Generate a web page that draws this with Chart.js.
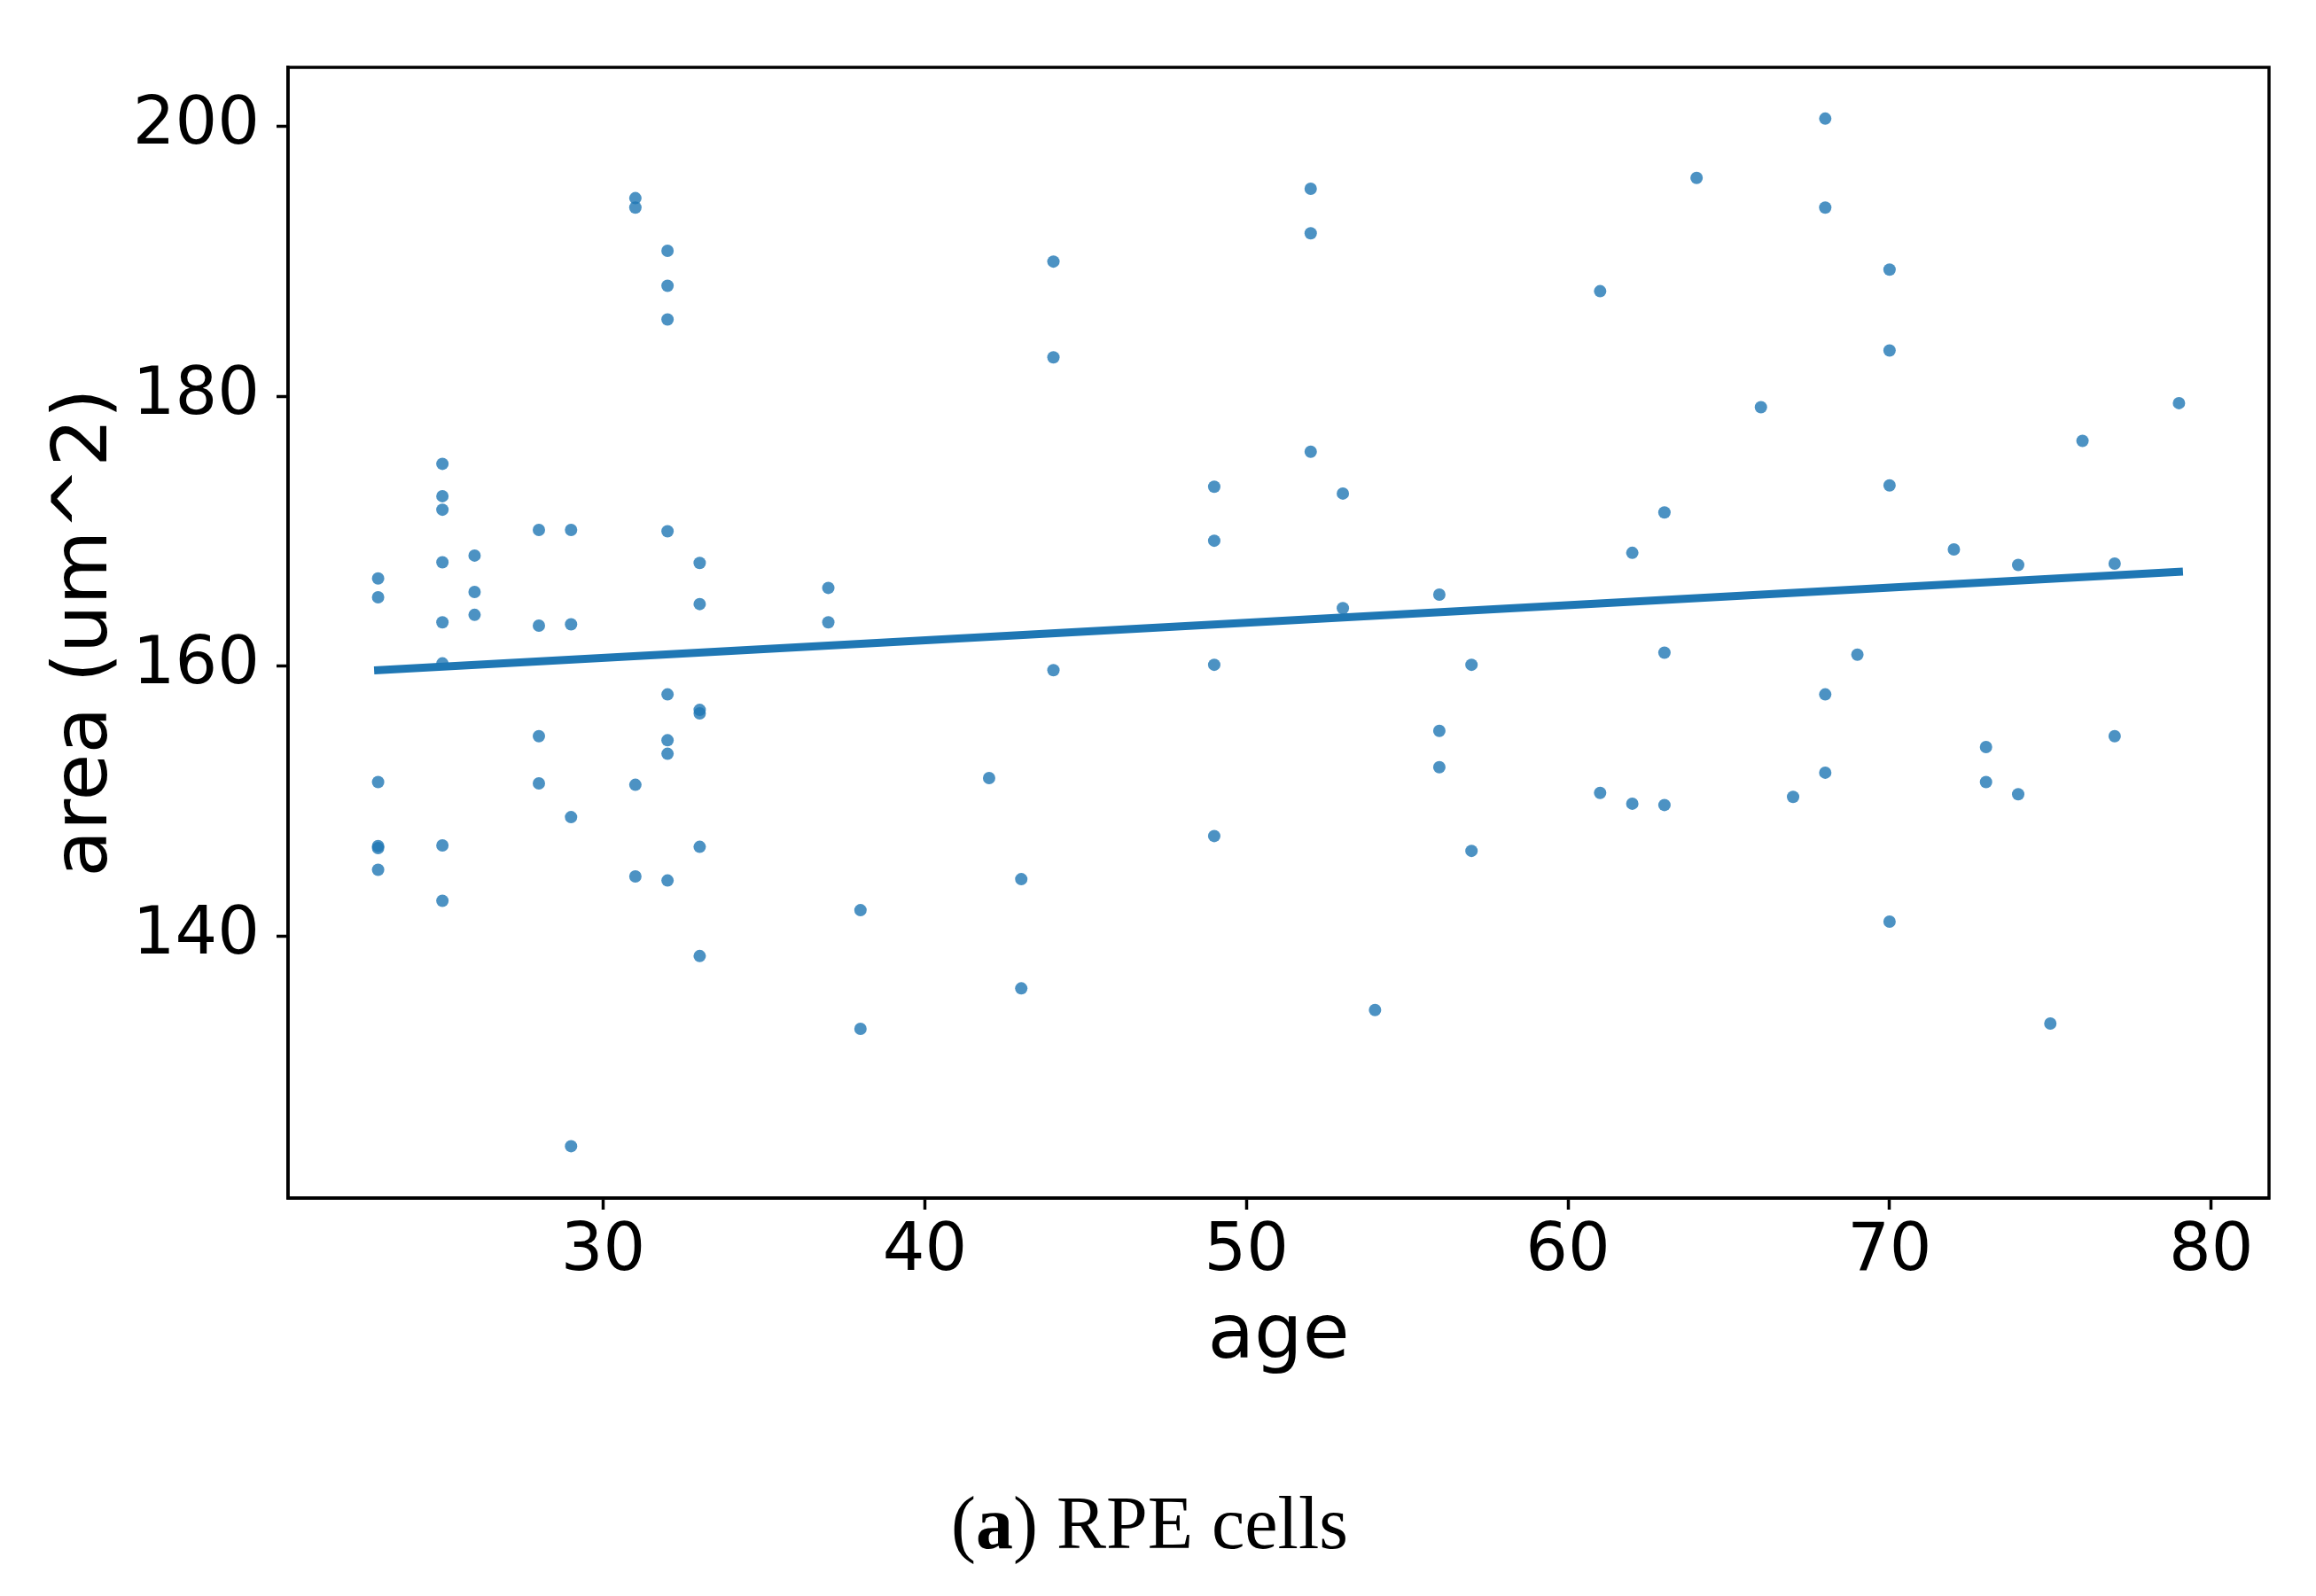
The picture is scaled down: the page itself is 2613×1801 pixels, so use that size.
<!DOCTYPE html>
<html>
<head>
<meta charset="utf-8">
<script src="https://cdn.jsdelivr.net/npm/chart.js@4/dist/chart.umd.min.js"></script>
<style>
  html, body { margin: 0; padding: 0; background: #ffffff; }
  body { width: 2613px; height: 1801px; position: relative; overflow: hidden; }
  #c { position: absolute; left: 0; top: 0; }
  #caption {
    position: absolute; left: 0; top: 1677px; width: 2594px;
    text-align: center; font-family: "Liberation Serif", "DejaVu Serif", serif;
    font-size: 84px; line-height: 84px; color: #000;
  }
</style>
</head>
<body>
<canvas id="c" width="2613" height="1801"></canvas>
<div id="caption">(<b>a</b>) RPE cells</div>
<script>
// ---- data ----
const ages = [
  23,23,23,23,23,23,
  25,25,25,25,25,25,25,25,
  26,26,26,
  28,28,28,28,
  29,29,29,29,
  31,31,31,31,
  32,32,32,32,32,32,32,32,
  33,33,33,33,33,33,
  37,37,
  38,38,
  42,
  43,43,
  44,44,44,
  49,49,49,49,
  52,52,52,
  53,53,
  54,
  56,56,56,
  57,57,
  61,61,
  62,62,
  63,63,63,
  64,
  66,
  67,
  68,68,68,68,
  69,
  70,70,70,70,
  72,
  73,73,
  74,74,
  75,
  76,
  77,77,
  79
];
const areas = [
  166.5,165.1,151.4,146.65,146.5,144.9,
  175.0,172.6,171.6,167.7,163.25,160.2,146.7,142.6,
  168.2,165.5,163.8,
  170.1,163.0,154.8,151.3,
  170.1,163.1,148.8,124.4,
  194.7,194.0,151.2,144.4,
  190.8,188.2,185.7,170.0,157.9,154.5,153.5,144.1,
  167.65,164.6,156.75,156.5,146.6,138.5,
  165.8,163.25,
  141.9,133.1,
  151.7,
  144.2,136.1,
  190.0,182.9,159.7,
  173.3,169.3,160.1,147.4,
  195.4,192.1,175.9,
  172.8,164.3,
  134.5,
  165.3,155.2,152.5,
  160.1,146.3,
  187.8,150.6,
  168.4,149.8,
  171.4,161.0,149.7,
  196.2,
  179.2,
  150.3,
  200.6,194.0,157.9,152.1,
  160.85,
  189.4,183.4,173.4,141.05,
  168.65,
  154.0,151.4,
  167.5,150.5,
  133.5,
  176.7,
  167.6,154.8,
  179.5
];
// regression line endpoints
const fitAges = [23, 79];
const fitAreas = [159.7, 167.0];
// axis ticks
const xTicks = [30, 40, 50, 60, 70, 80];
const yTicks = [140, 160, 180, 200];
const xLabel = 'age';
const yLabel = 'area (um^2)';

const scatterPts = ages.map((a, i) => ({x: a, y: areas[i]}));
const fitPts = fitAges.map((a, i) => ({x: a, y: fitAreas[i]}));

const frame = {
  id: 'frame',
  afterDraw(chart) {
    const {ctx, chartArea: a} = chart;
    ctx.save();
    ctx.strokeStyle = '#000';
    ctx.lineWidth = 3.5;
    ctx.strokeRect(a.left, a.top, a.right - a.left, a.bottom - a.top);
    ctx.restore();
  }
};

const tickFont = {family: '"DejaVu Sans", sans-serif', size: 75};
const titleFont = {family: '"DejaVu Sans", sans-serif', size: 86, lineHeight: 1.2};

new Chart(document.getElementById('c'), {
  data: {
    datasets: [
      {
        type: 'line',
        data: fitPts,
        borderColor: '#1f77b4',
        borderWidth: 9,
        borderCapStyle: 'square',
        pointRadius: 0,
        fill: false,
        order: 0
      },
      {
        type: 'scatter',
        data: scatterPts,
        backgroundColor: 'rgba(31,119,180,0.8)',
        borderWidth: 0,
        pointRadius: 7,
        order: 1
      }
    ]
  },
  options: {
    responsive: false,
    devicePixelRatio: 1,
    animation: false,
    layout: {padding: {left: 0, top: 76, right: 53, bottom: 0}},
    plugins: {legend: {display: false}, tooltip: {enabled: false}},
    scales: {
      x: {
        type: 'linear',
        position: 'bottom',
        min: 20.2, max: 81.8,
        afterFit(s) { s.height = 449; },
        afterBuildTicks(s) { s.ticks = xTicks.map(v => ({value: v})); },
        ticks: {font: tickFont, color: '#000', padding: 4, includeBounds: false, maxRotation: 0},
        grid: {display: true, drawOnChartArea: false, drawTicks: true, tickLength: 13, tickWidth: 3.5, tickColor: '#000'},
        border: {display: true, color: '#000', width: 3.5},
        title: {display: true, text: xLabel, font: titleFont, color: '#000', padding: {top: 0, bottom: 240}}
      },
      y: {
        type: 'linear',
        position: 'left',
        min: 120.55, max: 204.4,
        afterFit(s) { s.width = 325; },
        afterBuildTicks(s) { s.ticks = yTicks.map(v => ({value: v})); },
        ticks: {font: tickFont, color: '#000', padding: 19, includeBounds: false},
        grid: {display: true, drawOnChartArea: false, drawTicks: true, tickLength: 13, tickWidth: 3.5, tickColor: '#000'},
        border: {display: true, color: '#000', width: 3.5},
        title: {display: true, text: yLabel, font: titleFont, color: '#000', padding: {top: 46, bottom: 0}}
      }
    }
  },
  plugins: [frame]
});
</script>
</body>
</html>
